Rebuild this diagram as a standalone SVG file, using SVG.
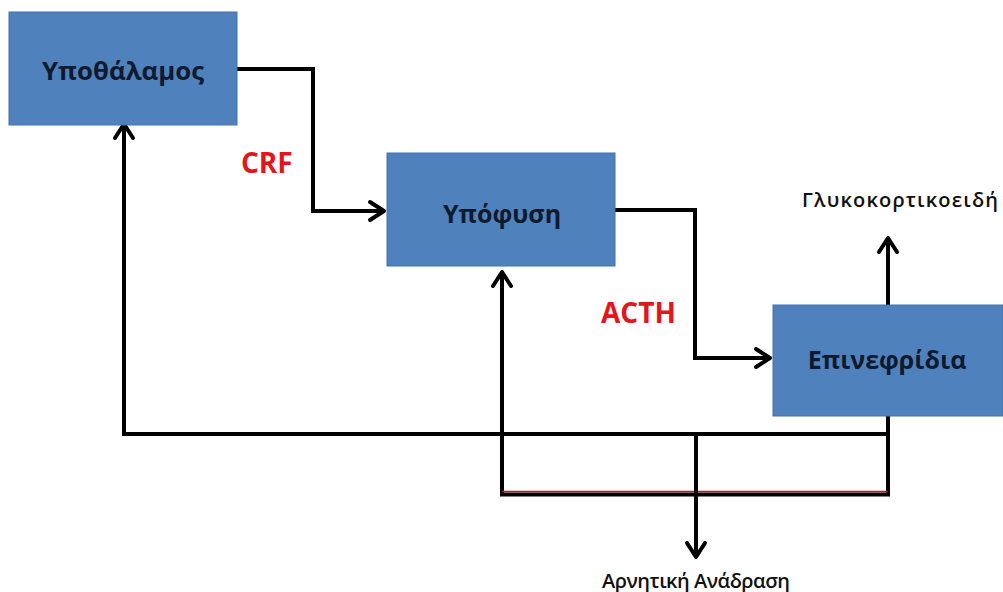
<svg xmlns="http://www.w3.org/2000/svg" width="1003" height="592" viewBox="0 0 1003 592">
<style>
.box{fill:#4f81bd;stroke:#4273ad;stroke-width:1}
.lbl{font-family:"Open Sans","Noto Sans","DejaVu Sans",sans-serif;font-weight:700;font-size:25px;fill:#0f1a2e;text-anchor:middle}
.red{font-family:"Open Sans","Noto Sans","DejaVu Sans",sans-serif;font-weight:700;font-size:28px;fill:#e3161b}
.note{font-family:"Open Sans","Noto Sans","DejaVu Sans",sans-serif;font-weight:600;font-size:20px;fill:#111111}
.ln{fill:none;stroke:#000;stroke-width:4;stroke-linejoin:miter}
</style>
<defs>
<marker id="arr" markerUnits="userSpaceOnUse" markerWidth="30" markerHeight="30" viewBox="-20 -15 30 30" refX="0" refY="0" orient="auto" overflow="visible">
<path d="M-15,-9 L-1,0 L-15,9" fill="none" stroke="#000" stroke-width="4" stroke-linejoin="round" stroke-linecap="round"/>
</marker>
</defs>
<rect width="1003" height="592" fill="#ffffff"/>
<g id="connectors">
<path class="ln" d="M237,69 H313 V211 H385" marker-end="url(#arr)"/>
<path class="ln" d="M615,210 H695 V358 H771" marker-end="url(#arr)"/>
<path class="ln" d="M888,305 V237" marker-end="url(#arr)"/>
<path class="ln" d="M888,401 V494"/>
<path class="ln" d="M888,434 H124 V123" marker-end="url(#arr)"/>
<path class="ln" d="M890,494.5 H502 V271" marker-end="url(#arr)"/>
<path d="M502,491.5 H888" fill="none" stroke="#c8102e" stroke-width="1.6"/>
<path class="ln" d="M696,434 V558" marker-end="url(#arr)"/>
</g>
<g id="node-hypothalamus">
<rect class="box" x="9" y="12" width="228" height="113"/>
<text class="lbl" x="123" y="80" textLength="162" lengthAdjust="spacingAndGlyphs">Υποθάλαμος</text>
</g>
<g id="node-pituitary">
<rect class="box" x="387" y="153" width="228" height="113"/>
<text class="lbl" x="502" y="223">Υπόφυση</text>
</g>
<g id="node-adrenals">
<rect class="box" x="773" y="305" width="230" height="111"/>
<text class="lbl" x="887" y="369">Επινεφρίδια</text>
</g>
<g id="labels">
<text class="red" x="241" y="173">CRF</text>
<text class="red" x="601" y="323">ACTH</text>
<text class="note" x="900" y="207" text-anchor="middle" textLength="196">Γλυκοκορτικοειδή</text>
<text class="note" x="696" y="588" text-anchor="middle" textLength="188">Αρνητική Ανάδραση</text>
</g>
</svg>
